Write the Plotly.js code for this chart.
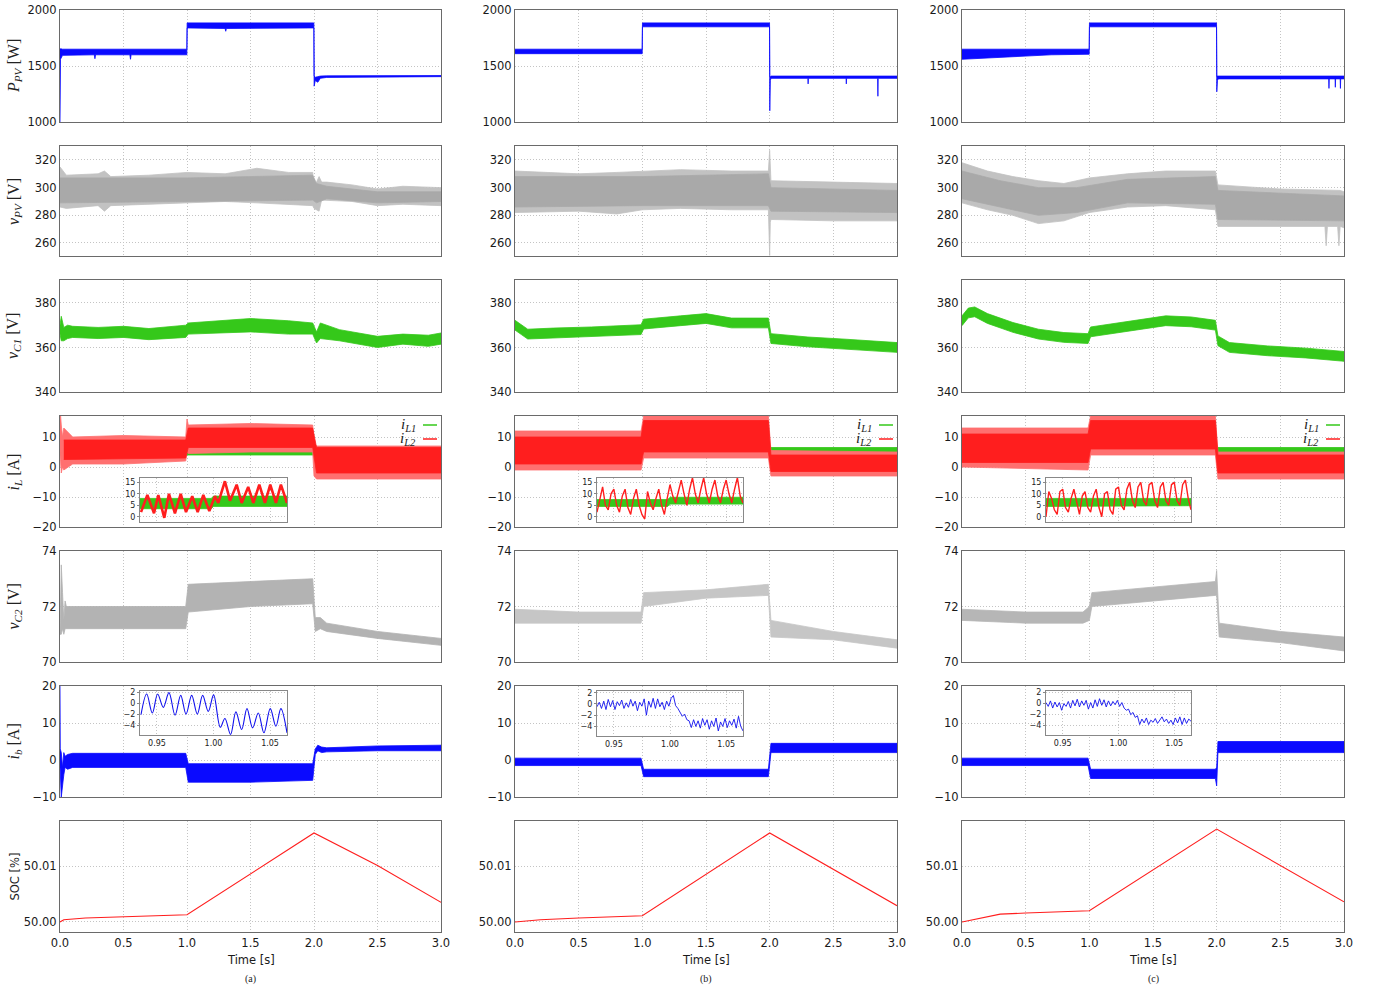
<!DOCTYPE html>
<html><head><meta charset="utf-8">
<script src="https://cdn.plot.ly/plotly-3.0.1.min.js"></script>
<style>html,body{margin:0;padding:0;background:#fff}#chart{width:1379px;height:992px}</style>
</head><body><div id="chart"></div>
<script>
// ---------------- DATA ----------------
// Row 1: P_PV [W] envelopes
const ppvA_t  = [0, 0.004, 0.02, 0.27, 0.275, 0.28, 0.55, 0.555, 0.56, 0.999, 1.001, 1.3, 1.305, 1.31, 1.999, 2.001, 2.01, 2.03, 2.05, 2.1, 3];
const ppvA_hi = [1650,1655,1650,1650,1650,1650,1650,1650,1650,1650,1885,1885,1885,1885,1885,1410,1400,1405,1410,1412,1415];
const ppvA_lo = [1000,1560,1595,1600,1565,1600,1600,1560,1600,1600,1840,1835,1810,1835,1840,1320,1370,1355,1390,1398,1405];
const ppvB_t  = [0, 0.999, 1.001, 1.999, 2.001, 2.005, 2.01, 2.3, 2.302, 2.304, 2.6, 2.602, 2.604, 2.848, 2.85, 2.852, 3];
const ppvB_hi = [1650,1650,1885,1885,1410,1405,1410,1410,1410,1410,1410,1410,1410,1410,1410,1410,1410];
const ppvB_lo = [1610,1610,1850,1850,1100,1370,1390,1390,1340,1390,1390,1340,1390,1390,1230,1390,1390];
const ppvC_t  = [0, 0.3, 0.7, 0.999, 1.001, 1.999, 2.001, 2.006, 2.012, 2.88, 2.882, 2.884, 2.93, 2.932, 2.934, 2.97, 2.972, 2.974, 3];
const ppvC_hi = [1650,1650,1650,1650,1885,1885,1410,1410,1410,1410,1410,1410,1410,1410,1410,1410,1410,1410,1410];
const ppvC_lo = [1560,1580,1600,1605,1850,1850,1270,1370,1385,1385,1300,1385,1385,1310,1385,1385,1300,1385,1385];

// Row 2: v_PV [V]  (outer light spikes + dense core)
const vpvA_t  = [0, 0.05, 0.3, 0.35, 0.4, 0.7, 1.0, 1.3, 1.55, 1.8, 1.99, 2.0, 2.04, 2.06, 2.1, 2.3, 2.5, 2.7, 3];
const vpvA_hi = [315,309,310,312,308,309,311,310,314,311,311,300,308,304,304,302,299,301,300];
const vpvA_lo = [286,285,287,283,287,288,289,290,289,288,287,285,283,291,291,290,287,288,287];
const vpvA_core_t  = [0, 1.0, 1.99, 2.02, 2.1, 2.5, 3];
const vpvA_core_hi = [307,307,309,303,301,297,297];
const vpvA_core_lo = [289,290,291,289,292,289,290];
const vpvB_t  = [0, 0.5, 0.8, 1.0, 1.3, 1.7, 1.99, 2.0, 2.005, 2.01, 2.5, 3];
const vpvB_hi = [312,310,311,312,313,312,312,327,305,305,304,303];
const vpvB_lo = [282,283,281,284,285,284,284,251,275,277,276,276];
const vpvB_core_t  = [0, 1.0, 1.99, 2.01, 3];
const vpvB_core_hi = [308,308,310,300,298];
const vpvB_core_lo = [286,287,287,283,282];
const vpvC_t  = [0, 0.2, 0.4, 0.6, 0.8, 1.0, 1.3, 1.6, 1.99, 2.01, 2.5, 2.85, 2.86, 2.87, 2.95, 2.96, 2.97, 3];
const vpvC_hi = [318,312,308,305,303,307,310,312,312,302,299,298,298,298,298,298,298,297];
const vpvC_lo = [289,284,280,274,276,282,286,287,284,272,272,272,258,272,272,258,272,271];
const vpvC_core_t  = [0, 0.3, 0.6, 0.9, 1.3, 1.99, 2.01, 3];
const vpvC_core_hi = [312,305,300,300,306,308,298,294];
const vpvC_core_lo = [292,286,280,282,289,288,277,276];

// Row 3: v_C1 [V]
const vc1A_t  = [0, 0.01, 0.03, 0.06, 0.1, 0.3, 0.5, 0.7, 0.99, 1.01, 1.5, 1.8, 1.99, 2.02, 2.05, 2.2, 2.5, 2.7, 2.9, 3];
const vc1A_hi = [370,374,369,370,369.5,369,369.5,368.5,370,371,373,372,371,367,371,368,365,366,365.5,366.5];
const vc1A_lo = [366,363,363,364,364.5,364,364.5,363.5,364.5,366,367,366,366,362,364,363,360,361.5,360.5,361.5];
const vc1B_t  = [0, 0.05, 0.1, 0.3, 0.6, 0.99, 1.01, 1.3, 1.5, 1.7, 1.99, 2.01, 2.3, 2.6, 3];
const vc1B_hi = [372.2,370.2,368.2,368.7,369.2,370.2,372.7,374.2,375.2,373.2,373.2,366.2,364.7,363.7,362.2];
const vc1B_lo = [367.8,365.8,363.8,364.3,364.8,365.8,368.3,369.8,370.8,368.8,368.8,361.8,360.3,359.3,357.8];
const vc1C_t  = [0, 0.05, 0.1, 0.2, 0.4, 0.6, 0.8, 0.99, 1.01, 1.3, 1.6, 1.8, 1.99, 2.01, 2.1, 2.4, 2.7, 3];
const vc1C_hi = [374.2,377.7,378.2,375.2,371.2,368.2,366.7,366.2,369.2,371.7,374.2,373.7,372.2,365.2,362.2,360.7,359.7,358.2];
const vc1C_lo = [369.8,373.3,373.8,370.8,366.8,363.8,362.3,361.8,364.8,367.3,369.8,369.3,367.8,360.8,357.8,356.3,355.3,353.8];

// Row 4: i_L [A]  (iL1 green, iL2 red: outer spikes + dense core)
const il2A_t  = [0, 0.005, 0.01, 0.02, 0.03, 0.1, 0.5, 0.99, 1.0, 1.01, 1.5, 1.99, 2.0, 2.02, 2.5, 3];
const il2A_hi = [17,17,14,10,13,10,10.5,10,16,14,14.5,14,8,7,7,7];
const il2A_lo = [0,5,-2,0,-1,1,1,2,5,4.5,5,5,-3,-4,-4,-4];
const il2A_core_t  = [0.03, 0.99, 1.01, 1.99, 2.02, 3];
const il2A_core_hi = [9,9,13,13,6.5,6.5];
const il2A_core_lo = [2.5,3,6.5,6.5,-2,-2];
const il1A_t  = [0, 0.99, 1.01, 1.99, 2.01, 3];
const il1A_hi = [8,8,7.5,7.5,5.5,5.5];
const il1A_lo = [4,4,4,4,4.5,4.5];
const il2B_t  = [0, 0.99, 1.01, 1.99, 2.01, 3];
const il2B_hi = [12,12,17,17,5.5,5];
const il2B_lo = [-1,-1,3,3,-3,-3];
const il2B_core_t  = [0, 0.99, 1.01, 1.99, 2.01, 3];
const il2B_core_hi = [10,10,15.5,15.5,4,4];
const il2B_core_lo = [1,1,5,5,-1.5,-1.5];
const il1B_t  = [0, 0.99, 1.01, 1.99, 2.01, 3];
const il1B_hi = [7,7,8,8,6.5,6.5];
const il1B_lo = [4.5,4.5,5.5,5.5,5,5];
const il2C_t  = [0, 0.99, 1.01, 1.99, 2.01, 3];
const il2C_hi = [13,13,17,17,5,5];
const il2C_lo = [0,-1,4,4,-4,-4];
const il2C_core_t  = [0, 0.99, 1.01, 1.99, 2.01, 3];
const il2C_core_hi = [11,11,15.5,15.5,4,4];
const il2C_core_lo = [1.5,1.5,6,6,-2,-2];
const il1C_t  = [0, 0.99, 1.01, 1.99, 2.01, 3];
const il1C_hi = [8,8,8,8,6.5,6.5];
const il1C_lo = [4.5,4.5,5,5,5,5];

// Row 5: v_C2 [V]
const vc2A_t  = [0, 0.01, 0.02, 0.03, 0.04, 0.05, 0.1, 0.5, 0.99, 1.01, 1.5, 1.99, 2.01, 2.05, 2.1, 2.5, 3];
const vc2A_hi = [71,73.5,72.5,71.5,72.2,72.0,72.0,72.0,72.0,72.8,72.9,73.0,71.6,71.6,71.4,71.1,70.85];
const vc2A_lo = [71,71.0,71.2,71.0,71.2,71.2,71.2,71.2,71.2,71.8,72.0,72.1,71.1,71.2,71.1,70.85,70.6];
const vc2B_t  = [0, 0.5, 0.99, 1.01, 1.5, 1.99, 2.01, 2.5, 3];
const vc2B_hi = [71.9,71.8,71.8,72.5,72.6,72.8,71.5,71.1,70.8];
const vc2B_lo = [71.4,71.4,71.4,72.0,72.3,72.4,70.9,70.8,70.5];
const vc2C_t  = [0, 0.5, 0.95, 1.0, 1.02, 1.5, 1.99, 2.0, 2.02, 2.5, 3];
const vc2C_hi = [71.9,71.8,71.8,72.0,72.5,72.7,72.9,73.3,71.4,71.1,70.9];
const vc2C_lo = [71.5,71.4,71.4,71.5,72.0,72.2,72.4,72.4,70.9,70.7,70.4];

// Row 6: i_b [A]
const ibA_t  = [0, 0.002, 0.01, 0.02, 0.03, 0.04, 0.06, 0.1, 0.5, 0.99, 1.01, 1.5, 1.99, 2.01, 2.03, 2.06, 2.1, 2.5, 3];
const ibA_hi = [20,3,2,-2,2,1,1.5,1.8,1.8,1.8,-1,-1,-1,3,4,3.5,3.3,3.8,4];
const ibA_lo = [-2,-3,-10,-8,-4,-2,-2.5,-2,-2,-2,-6,-6,-5.5,1.5,2.5,2,2.2,2.5,2.5];
const ibB_t  = [0, 0.99, 1.01, 1.99, 2.01, 3];
const ibB_hi = [0.5,0.5,-2.5,-2.5,4.5,4.5];
const ibB_lo = [-1.5,-1.5,-4.5,-4.5,2,2];
const ibC_t  = [0, 0.99, 1.01, 1.99, 2.0, 2.01, 3];
const ibC_hi = [0.5,0.5,-2.5,-2.5,-2,5,5];
const ibC_lo = [-1.5,-1.5,-5,-5,-7,2,2];

// Row 7: SOC [%]
const socA_t = [0, 0.03, 0.2, 0.5, 1.0, 2.0, 2.5, 3];
const socA_v = [50.0, 50.0004, 50.0007, 50.0009, 50.0013, 50.0159, 50.0101, 50.0035];
const socB_t = [0, 0.2, 0.5, 1.0, 2.0, 3];
const socB_v = [50.0, 50.0004, 50.0007, 50.0011, 50.0159, 50.0029];
const socC_t = [0, 0.3, 0.5, 1.0, 2.0, 3];
const socC_v = [50.0, 50.0014, 50.0016, 50.0020, 50.0166, 50.0036];

// Insets: i_L zoom (0.935 .. 1.065 s)
const insA_t   = [0.9359,0.9415,0.9474,0.9512,0.9565,0.9606,0.9659,0.9710,0.9757,0.9812,0.9860,0.9910,0.9963,1.0013,1.0042,1.0101,1.0146,1.0205,1.0249,1.0307,1.0352,1.0405,1.0455,1.0502,1.0552,1.0596,1.0650];
const insA_il2 = [2,9.5,1.5,9.5,-0.5,10,1.5,10,2,9,2,9.5,2.5,9,6,15.5,7,14,6,13,6,14,6,14,6,14,6];
const insBC_t  = [0.935,0.9375,0.94,0.9425,0.945,0.9475,0.95,0.9525,0.955,0.9575,0.96,0.9625,0.965,0.9675,0.97,0.9725,0.975,0.9775,0.98,0.9825,0.985,0.9875,0.99,0.9925,0.995,0.9975,1.0,1.0025,1.005,1.0075,1.01,1.0125,1.015,1.0175,1.02,1.0225,1.025,1.0275,1.03,1.0325,1.035,1.0375,1.04,1.0425,1.045,1.0475,1.05,1.0525,1.055,1.0575,1.06,1.0625,1.065];
const insB_il2 = [2,8,13,5,3,10,12,5,2,9,12,4,1,8,12,5,1,-1,11,6,3,8,12,5,1,8,14,9,6,11,16,10,5,12,17,10,6,12,17,10,6,12,16,9,6,12,16,10,6,12,17,9,6];
const insC_il2 = [0,11,8,3,1,11,12,4,2,8,12,6,1,9,11,4,2,9,12,4,0,10,11,3,1,12,13,5,3,12,15,7,4,13,15,7,5,14,15,7,4,13,15,7,5,14,15,7,5,14,16,8,3];
const insG_t   = [0.935, 0.998, 1.0, 1.065];
const insA_il1_hi = [8,8,9,9];
const insA_il1_lo = [3.5,3.5,4.5,4.5];
const insB_il1_hi = [7.5,7.5,8.5,8.5];
const insB_il1_lo = [4.5,4.5,5.5,5.5];
const insC_il1_hi = [8,8,8,8];
const insC_il1_lo = [4.5,4.5,4.8,4.8];

// Insets: i_b zoom
const ibInsA_t = [0.9359,0.9409,0.9459,0.9506,0.9556,0.9606,0.9660,0.9710,0.9757,0.9807,0.9857,0.9904,0.9954,1.0001,1.0060,1.0101,1.0151,1.0198,1.0249,1.0296,1.0346,1.0396,1.0446,1.0502,1.0552,1.0596,1.0650];
const ibInsA_v = [-2,1.76,-1.7,1.76,-0.67,2,-2.1,1.5,-1.9,1.5,-1.9,1.5,-1.4,1.6,-4.3,-2.7,-5.6,-1.5,-4.7,-0.9,-4.4,-1.7,-5.3,-0.9,-4.1,-0.9,-5.3];
const ibInsBC_t = [0.935,0.937,0.939,0.941,0.943,0.945,0.947,0.949,0.951,0.953,0.955,0.957,0.959,0.961,0.963,0.965,0.967,0.969,0.971,0.973,0.975,0.977,0.979,0.981,0.983,0.985,0.987,0.989,0.991,0.993,0.995,0.997,0.999,1.001,1.003,1.005,1.007,1.009,1.011,1.013,1.015,1.017,1.019,1.021,1.023,1.025,1.027,1.029,1.031,1.033,1.035,1.037,1.039,1.041,1.043,1.045,1.047,1.049,1.051,1.053,1.055,1.057,1.059,1.061,1.063,1.065];
const ibInsB_v = [-0.5,0.3,-0.8,0.5,-1.0,0.8,-0.5,0.6,-1.0,0.4,-0.3,0.7,-0.8,0.2,-0.6,0.8,-0.4,0.5,-1.2,0.3,-0.4,0.9,-2.0,0.5,-0.6,1.0,-0.8,0.9,-0.5,0.3,-1.0,0.5,-0.4,1.0,1.5,-0.3,-0.8,-1.5,-2.2,-1.8,-2.8,-3.0,-4.2,-2.8,-4.0,-3.0,-4.3,-2.6,-3.8,-2.8,-4.5,-3.0,-4.0,-2.5,-4.8,-3.2,-4.0,-2.6,-4.2,-3.0,-3.8,-2.7,-4.3,-2.2,-4.0,-4.8];
const ibInsC_v = [0.2,-0.5,0.5,-0.8,0.3,-0.6,0.2,-1.2,0.0,-0.5,0.4,-0.8,0.6,-0.4,0.8,-0.6,0.5,-0.3,0.6,-1.0,0.2,-0.8,0.7,-0.5,0.9,-0.3,0.7,-0.6,0.5,-0.4,0.4,-0.2,0.6,-0.5,0.2,-0.8,-1.2,-1.0,-2.0,-1.6,-2.5,-2.2,-3.8,-2.8,-3.5,-2.6,-3.8,-3.0,-3.4,-2.7,-3.6,-3.0,-2.4,-3.3,-2.8,-3.6,-3.0,-3.8,-2.6,-3.5,-2.4,-3.8,-2.6,-3.6,-2.8,-3.2];

// tick / label text
const xTickVals = [0, 0.5, 1, 1.5, 2, 2.5, 3];
const yTickVals = [[1000,1500,2000],[260,280,300,320],[340,360,380],[-20,-10,0,10],[70,72,74],[-10,0,10,20],[50.00,50.01]];
const yTitles = ['<i>P</i><sub><i>PV</i></sub> [W]','<i>v</i><sub><i>PV</i></sub> [V]','<i>v</i><sub><i>C1</i></sub> [V]','<i>i</i><sub><i>L</i></sub> [A]','<i>v</i><sub><i>C2</i></sub> [V]','<i>i</i><sub><i>b</i></sub> [A]','SOC [%]'];
const colLabels = ['(a)','(b)','(c)'];
const xTitle = 'Time [s]';
const legendNames = ['<i>i</i><sub><i>L1</i></sub>','<i>i</i><sub><i>L2</i></sub>'];
const insILTicks = [0,5,10,15];
const insIBTicksY = [-4,-2,0,2];
const insIBTicksX = [0.95,1.0,1.05];

// ---------------- LAYOUT / STYLE ----------------
const W = 1379, H = 992;
const colPx = [[60,441],[515,897],[962,1344]];
const rowPx = [[10,122],[146,256],[280,392],[416,527],[551,662],[686,797],[821,932]];
const yRanges = [[1000,2000],[250.6,330.1],[340,390.3],[-20,17],[70,74],[-10,20],[49.99821,50.01804]];
const insILpx = [[[140,287],[478,522]],[[597,743],[478,522]],[[1046,1191],[478,522]]];
const insIBpx = [[[140,287],[691,735]],[[597,743],[691,736]],[[1046,1191],[691,735]]];
const insXRange = [0.935,1.065];
const insILRange = [-2.3,16.9];
const insIBRange = [-5.7,2.3];

const BLUE='#0a0aff', GRAY='#a9a9a9', LGRAY='#c2c2c2', GREEN='#35c81a', RED='#ff1e1e', LRED='#ff7070';
const dx = p => [p[0]/W, p[1]/W];
const dy = p => [1 - p[1]/H, 1 - p[0]/H];
const tickFont = {family:'DejaVu Sans, Verdana, sans-serif', size:11.5, color:'#1a1a1a'};
const GRID = '#c4c4c4', GDASH = '1px,2px';

const traces = [];
function axId(k){ return k===1 ? ['x','y'] : ['x'+k,'y'+k]; }
function band(t, hi, lo, k, color, opacity){
  const [xa,ya] = axId(k);
  traces.push({type:'scatter', mode:'lines', x: t.concat(t.slice().reverse()), y: hi.concat(lo.slice().reverse()),
    fill:'toself', fillcolor:color, line:{color:color, width:0.8}, opacity: opacity||1, xaxis:xa, yaxis:ya, hoverinfo:'skip', showlegend:false});
}
function line(t, v, k, color, width, shape){
  const [xa,ya] = axId(k);
  traces.push({type:'scatter', mode:'lines', x:t, y:v, line:{color:color, width:width, shape:shape||'linear'}, xaxis:xa, yaxis:ya, hoverinfo:'skip', showlegend:false});
}
const K = (r,c) => r*3 + c + 1;

band(ppvA_t, ppvA_hi, ppvA_lo, K(0,0), BLUE);
band(ppvB_t, ppvB_hi, ppvB_lo, K(0,1), BLUE);
band(ppvC_t, ppvC_hi, ppvC_lo, K(0,2), BLUE);
band(vpvA_t, vpvA_hi, vpvA_lo, K(1,0), LGRAY);
band(vpvA_core_t, vpvA_core_hi, vpvA_core_lo, K(1,0), GRAY);
band(vpvB_t, vpvB_hi, vpvB_lo, K(1,1), LGRAY);
band(vpvB_core_t, vpvB_core_hi, vpvB_core_lo, K(1,1), GRAY);
band(vpvC_t, vpvC_hi, vpvC_lo, K(1,2), LGRAY);
band(vpvC_core_t, vpvC_core_hi, vpvC_core_lo, K(1,2), GRAY);
band(vc1A_t, vc1A_hi, vc1A_lo, K(2,0), GREEN);
band(vc1B_t, vc1B_hi, vc1B_lo, K(2,1), GREEN);
band(vc1C_t, vc1C_hi, vc1C_lo, K(2,2), GREEN);
band(il1A_t, il1A_hi, il1A_lo, K(3,0), GREEN);
band(il2A_t, il2A_hi, il2A_lo, K(3,0), LRED);
band(il2A_core_t, il2A_core_hi, il2A_core_lo, K(3,0), RED);
band(il1B_t, il1B_hi, il1B_lo, K(3,1), GREEN);
band(il2B_t, il2B_hi, il2B_lo, K(3,1), LRED);
band(il2B_core_t, il2B_core_hi, il2B_core_lo, K(3,1), RED);
band(il1C_t, il1C_hi, il1C_lo, K(3,2), GREEN);
band(il2C_t, il2C_hi, il2C_lo, K(3,2), LRED);
band(il2C_core_t, il2C_core_hi, il2C_core_lo, K(3,2), RED);
band(vc2A_t, vc2A_hi, vc2A_lo, K(4,0), '#b3b3b3');
band(vc2B_t, vc2B_hi, vc2B_lo, K(4,1), '#c6c6c6');
band(vc2C_t, vc2C_hi, vc2C_lo, K(4,2), '#b6b6b6');
band(ibA_t, ibA_hi, ibA_lo, K(5,0), BLUE);
band(ibB_t, ibB_hi, ibB_lo, K(5,1), BLUE);
band(ibC_t, ibC_hi, ibC_lo, K(5,2), BLUE);
line(socA_t, socA_v, K(6,0), RED, 1.1);
line(socB_t, socB_v, K(6,1), RED, 1.1);
line(socC_t, socC_v, K(6,2), RED, 1.1);

// insets
band(insG_t, insA_il1_hi, insA_il1_lo, 22, GREEN);
line(insA_t, insA_il2, 22, RED, 2.6);
band(insG_t, insB_il1_hi, insB_il1_lo, 23, GREEN);
line(insBC_t, insB_il2, 23, RED, 1.4);
band(insG_t, insC_il1_hi, insC_il1_lo, 24, GREEN);
line(insBC_t, insC_il2, 24, RED, 1.4);
line(ibInsA_t, ibInsA_v, 25, '#1010ee', 1.1, 'spline');
line(ibInsBC_t, ibInsB_v, 26, '#1010ee', 0.9);
line(ibInsBC_t, ibInsC_v, 27, '#1010ee', 0.9);

const layout = {
  width: W, height: H, margin:{l:0,r:0,t:0,b:0,pad:0},
  paper_bgcolor:'#ffffff', plot_bgcolor:'#ffffff', showlegend:false,
  font: tickFont, annotations: [], shapes: []
};

for (let r=0; r<7; r++){
  for (let c=0; c<3; c++){
    const k = K(r,c);
    const xn = k===1 ? 'xaxis' : 'xaxis'+k, yn = k===1 ? 'yaxis' : 'yaxis'+k;
    const [xa,ya] = axId(k);
    layout[xn] = {domain: dx(colPx[c]), range:[0,3], anchor: ya, tickvals:xTickVals, tickformat:'.1f',
      showticklabels: r===6, showgrid:true, gridcolor:GRID, griddash:GDASH, gridwidth:1, zeroline:false,
      showline:true, mirror:true, linecolor:'#6a6a6a', linewidth:1, ticks:'', tickfont:tickFont, automargin:false, fixedrange:true};
    layout[yn] = {domain: dy(rowPx[r]), range:yRanges[r], anchor: xa, tickvals:yTickVals[r], tickformat: r===6 ? '.2f' : '',
      showgrid:true, gridcolor:GRID, griddash:GDASH, gridwidth:1, zeroline:false,
      showline:true, mirror:true, linecolor:'#6a6a6a', linewidth:1, ticks:'', tickfont:tickFont, automargin:false, fixedrange:true};
  }
}
// inset axes
const insFont = {family:'DejaVu Sans, Verdana, sans-serif', size:8, color:'#222'};
function insetAxes(k, px, yr, yt, showX){
  layout['xaxis'+k] = {domain: dx(px[0]), range: insXRange, anchor:'y'+k, tickvals: insIBTicksX, tickformat:'.2f',
    showticklabels: showX, showgrid:true, gridcolor:GRID, griddash:GDASH, zeroline:false, showline:true, mirror:true,
    linecolor:'#888', linewidth:1, ticks:'', tickfont:insFont, automargin:false, fixedrange:true};
  layout['yaxis'+k] = {domain: dy(px[1]), range: yr, anchor:'x'+k, tickvals: yt,
    showgrid:true, gridcolor:GRID, griddash:GDASH, zeroline:false, showline:true, mirror:true,
    linecolor:'#888', linewidth:1, ticks:'outside', ticklen:2, tickcolor:'#888', tickfont:insFont, automargin:false, fixedrange:true};
  layout.shapes.push({type:'rect', xref:'x'+k, yref:'y'+k, x0:insXRange[0], x1:insXRange[1], y0:yr[0], y1:yr[1],
    layer:'below', fillcolor:'#ffffff', line:{width:0}});
}
for (let c=0;c<3;c++){
  insetAxes(22+c, insILpx[c], insILRange, insILTicks, false);
  insetAxes(25+c, insIBpx[c], insIBRange, insIBTicksY, true);
}

// y-axis titles (column a only)
const serif = 'Liberation Serif, DejaVu Serif, serif';
for (let r=0;r<7;r++){
  const cy = 1 - (rowPx[r][0]+rowPx[r][1])/2/H;
  layout.annotations.push({xref:'paper', yref:'paper', x:14/W, y:cy, text:yTitles[r], textangle:-90, showarrow:false,
    xanchor:'center', yanchor:'middle',
    font: r===6 ? {family:'DejaVu Sans, sans-serif', size:11.5, color:'#222'} : {family:serif, size:16, color:'#222'}});
}
// bottom labels
for (let c=0;c<3;c++){
  const cx = (colPx[c][0]+colPx[c][1])/2/W;
  layout.annotations.push({xref:'paper', yref:'paper', x:cx, y:1-960/H, text:xTitle, showarrow:false, xanchor:'center', yanchor:'middle',
    font:{family:'DejaVu Sans, sans-serif', size:11.5, color:'#1a1a1a'}});
  layout.annotations.push({xref:'paper', yref:'paper', x:cx, y:1-979/H, text:colLabels[c], showarrow:false, xanchor:'center', yanchor:'middle',
    font:{family:serif, size:10, color:'#222'}});
  // legends in iL panels
  const right = colPx[c][1];
  const lyy = [425, 439];
  const lcol = [GREEN, RED];
  for (let j=0;j<2;j++){
    layout.annotations.push({xref:'paper', yref:'paper', x:(right-23)/W, y:1-lyy[j]/H, text:legendNames[j], showarrow:false,
      xanchor:'right', yanchor:'middle', font:{family:serif, size:15, color:'#222'}});
    layout.shapes.push({type:'line', xref:'paper', yref:'paper', x0:(right-18)/W, x1:(right-4)/W, y0:1-lyy[j]/H, y1:1-lyy[j]/H,
      line:{color:lcol[j], width:1.5}, layer:'above'});
  }
}

Plotly.newPlot('chart', traces, layout, {staticPlot:true, displayModeBar:false});
</script></body></html>
